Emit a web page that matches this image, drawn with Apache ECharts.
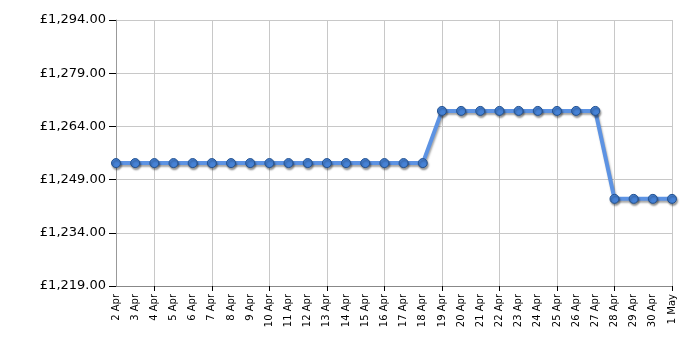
<!DOCTYPE html>
<html>
<head>
<meta charset="utf-8">
<script src="https://cdn.jsdelivr.net/npm/echarts@6/dist/echarts.min.js"></script>
<style>html,body{margin:0;padding:0;background:#fff}#c{width:700px;height:350px}</style>
</head>
<body>
<div id="c"></div>
<script>
const categories = ['2 Apr','3 Apr','4 Apr','5 Apr','6 Apr','7 Apr','8 Apr','9 Apr','10 Apr','11 Apr','12 Apr','13 Apr','14 Apr','15 Apr','16 Apr','17 Apr','18 Apr','19 Apr','20 Apr','21 Apr','22 Apr','23 Apr','24 Apr','25 Apr','26 Apr','27 Apr','28 Apr','29 Apr','30 Apr','1 May'];
const prices = [1253.66,1253.66,1253.66,1253.66,1253.66,1253.66,1253.66,1253.66,1253.66,1253.66,1253.66,1253.66,1253.66,1253.66,1253.66,1253.66,1253.66,1268.37,1268.37,1268.37,1268.37,1268.37,1268.37,1268.37,1268.37,1268.37,1243.57,1243.57,1243.57,1243.57];
const yTicks = [1219,1234,1249,1264,1279,1294];

const fmt = v => '£' + v.toLocaleString('en-GB',{minimumFractionDigits:2,maximumFractionDigits:2});
const gridEvery = i => i >= 2 && (i - 2) % 3 === 0;

const chart = echarts.init(document.getElementById('c'));
chart.setOption({
  animation:false,
  grid:{left:116,right:28,top:20,bottom:64},
  xAxis:{
    type:'category', data:categories, boundaryGap:false,
    axisLine:{lineStyle:{color:'#888',width:1}},
    axisTick:{show:true, interval:gridEvery, length:5, lineStyle:{color:'#000'}},
    splitLine:{show:true, interval:gridEvery, lineStyle:{color:'#c8c8c8',width:1}},
    axisLabel:{interval:0, rotate:90, fontSize:10, fontFamily:'DejaVu Sans', color:'#000', margin:8}
  },
  yAxis:{
    type:'value', min:1219, max:1294,
    axisLine:{show:true, lineStyle:{color:'#999'}},
    axisTick:{show:true, length:7, lineStyle:{color:'#000'}, customValues:yTicks},
    splitLine:{show:true, lineStyle:{color:'#c8c8c8'}},
    axisLabel:{customValues:yTicks, formatter:fmt, fontSize:13, fontFamily:'DejaVu Sans', color:'#000', margin:10}
  },
  series:[{
    type:'line', data:prices,
    symbol:'circle', symbolSize:9,
    lineStyle:{color:'#5d93e3', width:4, shadowColor:'rgba(0,0,0,0.35)', shadowBlur:2, shadowOffsetX:1, shadowOffsetY:2},
    itemStyle:{color:'#4682d6', borderColor:'#24528f', borderWidth:1, shadowColor:'rgba(0,0,0,0.4)', shadowBlur:2, shadowOffsetX:1, shadowOffsetY:2}
  }]
});
</script>
</body>
</html>
